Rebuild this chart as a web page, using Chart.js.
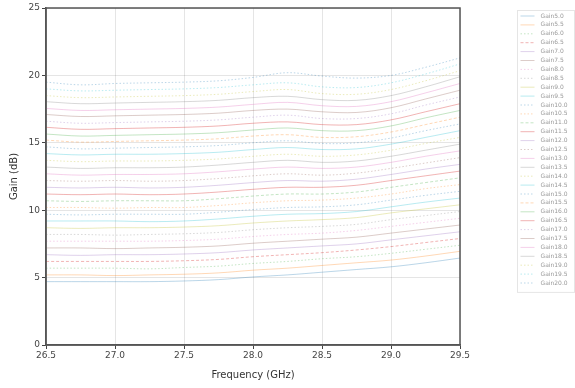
<!DOCTYPE html>
<html>
<head>
<meta charset="utf-8">
<script src="https://cdn.jsdelivr.net/npm/chart.js@4.4.0/dist/chart.umd.min.js"></script>
<style>
html,body{margin:0;padding:0;background:#fff;}
#wrap{width:575px;height:388px;position:relative;}
</style>
</head>
<body>
<div id="wrap"><canvas id="c" width="575" height="388"></canvas></div>
<script>
const freqs = [26.5,26.75,27.0,27.25,27.5,27.75,28.0,28.25,28.5,28.75,29.0,29.25,29.5];
const xTicks = [26.5,27.0,27.5,28.0,28.5,29.0,29.5];
const yTicks = [0,5,10,15,20,25];
const seriesNames = ["Gain5.0","Gain5.5","Gain6.0","Gain6.5","Gain7.0","Gain7.5","Gain8.0","Gain8.5","Gain9.0","Gain9.5","Gain10.0","Gain10.5","Gain11.0","Gain11.5","Gain12.0","Gain12.5","Gain13.0","Gain13.5","Gain14.0","Gain14.5","Gain15.0","Gain15.5","Gain16.0","Gain16.5","Gain17.0","Gain17.5","Gain18.0","Gain18.5","Gain19.0","Gain19.5","Gain20.0"];
const gain5_0  = [4.7,4.7,4.7,4.7,4.75,4.85,5.05,5.2,5.4,5.6,5.8,6.1,6.45];
const gain5_5  = [5.2,5.2,5.15,5.2,5.25,5.35,5.55,5.7,5.9,6.1,6.3,6.6,6.95];
const gain6_0  = [5.7,5.7,5.7,5.65,5.75,5.85,6.05,6.2,6.4,6.55,6.8,7.1,7.4];
const gain6_5  = [6.2,6.2,6.2,6.2,6.25,6.35,6.55,6.7,6.85,7.05,7.3,7.6,7.9];
const gain7_0  = [6.7,6.65,6.7,6.7,6.75,6.85,7.05,7.2,7.35,7.5,7.8,8.1,8.4];
const gain7_5  = [7.2,7.2,7.15,7.2,7.25,7.35,7.55,7.7,7.85,8.0,8.3,8.6,8.9];
const gain8_0  = [7.7,7.7,7.7,7.7,7.75,7.85,8.05,8.2,8.3,8.5,8.8,9.1,9.4];
const gain8_5  = [8.2,8.2,8.15,8.2,8.25,8.35,8.55,8.7,8.8,8.95,9.3,9.6,9.9];
const gain9_0  = [8.7,8.65,8.7,8.7,8.75,8.85,9.05,9.2,9.3,9.45,9.8,10.1,10.4];
const gain9_5  = [9.2,9.2,9.2,9.15,9.2,9.35,9.55,9.7,9.75,9.9,10.25,10.6,10.9];
const gain10_0 = [9.7,9.65,9.7,9.7,9.7,9.85,10.05,10.2,10.25,10.4,10.75,11.1,11.4];
const gain10_5 = [10.2,10.2,10.15,10.2,10.2,10.35,10.55,10.7,10.75,10.9,11.2,11.6,11.9];
const gain11_0 = [10.7,10.65,10.7,10.7,10.7,10.85,11.05,11.2,11.2,11.35,11.7,12.05,12.4];
const gain11_5 = [11.2,11.15,11.2,11.15,11.2,11.35,11.55,11.7,11.7,11.85,12.2,12.55,12.9];
const gain12_0 = [11.7,11.65,11.7,11.65,11.7,11.85,12.05,12.2,12.15,12.3,12.65,13.05,13.4];
const gain12_5 = [12.2,12.15,12.2,12.15,12.2,12.35,12.55,12.7,12.6,12.75,13.1,13.5,13.9];
const gain13_0 = [12.7,12.6,12.65,12.65,12.7,12.85,13.05,13.2,13.1,13.2,13.55,14.0,14.4];
const gain13_5 = [13.2,13.1,13.15,13.15,13.2,13.35,13.55,13.7,13.55,13.65,14.0,14.45,14.9];
const gain14_0 = [13.7,13.6,13.65,13.65,13.7,13.8,14.0,14.15,14.0,14.1,14.45,14.95,15.4];
const gain14_5 = [14.2,14.1,14.15,14.15,14.2,14.3,14.5,14.65,14.5,14.55,14.9,15.4,15.9];
const gain15_0 = [14.7,14.55,14.6,14.65,14.7,14.8,15.0,15.15,14.95,15.0,15.35,15.9,16.4];
const gain15_5 = [15.2,15.05,15.1,15.15,15.2,15.3,15.5,15.6,15.4,15.45,15.8,16.35,16.9];
const gain16_0 = [15.65,15.5,15.55,15.6,15.65,15.75,15.95,16.1,15.9,15.9,16.25,16.85,17.4];
const gain16_5 = [16.15,16.0,16.05,16.1,16.15,16.25,16.45,16.55,16.35,16.35,16.7,17.3,17.9];
const gain17_0 = [16.6,16.45,16.5,16.55,16.6,16.7,16.9,17.05,16.8,16.8,17.15,17.8,18.4];
const gain17_5 = [17.1,16.95,17.0,17.05,17.1,17.2,17.4,17.5,17.3,17.25,17.6,18.25,18.9];
const gain18_0 = [17.55,17.4,17.45,17.5,17.55,17.65,17.85,18.0,17.75,17.7,18.05,18.7,19.4];
const gain18_5 = [18.05,17.9,17.95,18.0,18.05,18.15,18.35,18.45,18.2,18.15,18.5,19.15,19.9];
const gain19_0 = [18.5,18.35,18.4,18.45,18.5,18.6,18.8,18.95,18.65,18.6,18.95,19.6,20.35];
const gain19_5 = [19.0,18.85,18.9,18.95,19.0,19.1,19.3,19.45,19.15,19.1,19.45,20.1,20.85];
const gain20_0 = [19.5,19.3,19.4,19.45,19.5,19.6,19.85,20.2,19.95,19.8,20.0,20.6,21.3];

const seriesValues = [gain5_0,gain5_5,gain6_0,gain6_5,gain7_0,gain7_5,gain8_0,gain8_5,gain9_0,gain9_5,gain10_0,gain10_5,gain11_0,gain11_5,gain12_0,gain12_5,gain13_0,gain13_5,gain14_0,gain14_5,gain15_0,gain15_5,gain16_0,gain16_5,gain17_0,gain17_5,gain18_0,gain18_5,gain19_0,gain19_5,gain20_0];

const palette = ['rgba(31,119,180,0.3)','rgba(255,127,14,0.3)','rgba(44,160,44,0.28)','rgba(214,39,40,0.35)','rgba(148,103,189,0.3)','rgba(140,86,75,0.3)','rgba(227,119,194,0.35)','rgba(127,127,127,0.3)','rgba(188,189,34,0.3)','rgba(23,190,207,0.3)'];
const dashes = [[],[],[1.5,2],[3,2],[],[],[1.5,2],[1.5,2],[],[],[1.5,2],[1.5,2],[3,2],[],[],[1.5,2],[],[],[1.5,2],[],[1.5,2],[3,2],[],[],[1.5,2],[],[],[],[1.5,2],[1.5,2],[1.5,2]];

const datasets = seriesNames.map((name,i)=>({
  label:name,
  data:freqs.map((f,j)=>({x:f,y:seriesValues[i][j]})),
  borderColor:palette[i%palette.length],
  backgroundColor:palette[i%palette.length],
  borderWidth:1,
  borderDash:dashes[i],
  pointRadius:0,
  tension:0.35,
  fill:false
}));

const frameAndLegend = {
  id:'frameAndLegend',
  afterDatasetsDraw(chart){
    const ctx = chart.ctx, a = chart.chartArea;
    ctx.save();
    ctx.strokeStyle = '#555';
    ctx.lineWidth = 1.5;
    ctx.strokeRect(a.left, a.top, a.right-a.left, a.bottom-a.top);
    ctx.restore();
  },
  afterDraw(chart){
    const ctx = chart.ctx;
    const bx = 517.5, by = 10.5, bw = 57, rowH = 8.9;
    const bh = rowH*seriesNames.length + 6;
    ctx.save();
    ctx.strokeStyle = 'rgba(0,0,0,0.1)';
    ctx.lineWidth = 1;
    ctx.strokeRect(bx, by, bw, bh);
    ctx.font = '6px "DejaVu Sans"';
    ctx.textBaseline = 'middle';
    ctx.fillStyle = '#999';
    seriesNames.forEach((n,i)=>{
      const y = by + 5.5 + i*rowH;
      ctx.strokeStyle = palette[i%palette.length];
      ctx.setLineDash(dashes[i]);
      ctx.beginPath();
      ctx.moveTo(bx+3, y);
      ctx.lineTo(bx+17, y);
      ctx.stroke();
      ctx.setLineDash([]);
      ctx.fillText(n, bx+23, y);
    });
    ctx.restore();
  }
};

new Chart(document.getElementById('c'), {
  type:'line',
  data:{datasets},
  options:{
    responsive:false,
    animation:false,
    layout:{padding:{top:8,right:115,left:8,bottom:0}},
    plugins:{legend:{display:false},tooltip:{enabled:false}},
    scales:{
      x:{
        type:'linear',min:26.5,max:29.5,
        afterBuildTicks(s){ s.ticks = xTicks.map(v=>({value:v})); },
        afterFit(s){ s.height = 43; },
        grid:{color:'rgba(0,0,0,0.1)',tickColor:'#444',tickLength:4,drawOnChartArea:true},
        border:{color:'#555',width:1.5},
        ticks:{color:'#444',font:{family:'DejaVu Sans',size:9},padding:1,maxRotation:0,callback:v=>Number(v).toFixed(1)},
        title:{display:true,text:'Frequency (GHz)',color:'#333',font:{family:'DejaVu Sans',size:10},padding:{top:2,bottom:7}}
      },
      y:{
        type:'linear',min:0,max:25,
        afterBuildTicks(s){ s.ticks = yTicks.map(v=>({value:v})); },
        afterFit(s){ s.width = 38; },
        grid:{color:'rgba(0,0,0,0.1)',tickColor:'#444',tickLength:4,drawOnChartArea:true},
        border:{color:'#555',width:1.5},
        ticks:{color:'#444',font:{family:'DejaVu Sans',size:9},padding:2},
        title:{display:true,text:'Gain (dB)',color:'#333',font:{family:'DejaVu Sans',size:10},padding:{top:0,bottom:2}}
      }
    }
  },
  plugins:[frameAndLegend]
});
</script>
</body>
</html>
